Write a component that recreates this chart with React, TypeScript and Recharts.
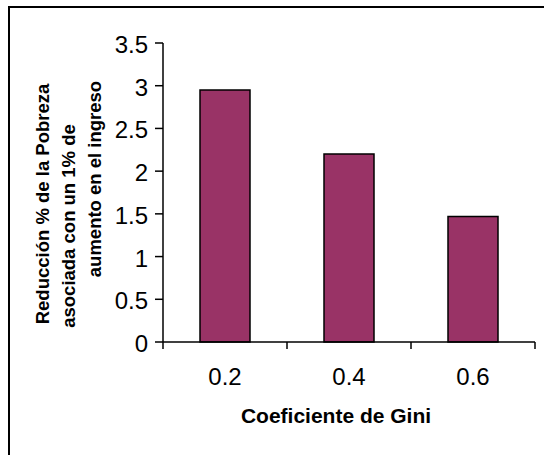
import React from 'react';
import { BarChart, Bar, XAxis, YAxis } from 'recharts';

const giniCategories = ['0.2', '0.4', '0.6'];
const povertyReduction = [2.95, 2.2, 1.47];
const yTicks = [0, 0.5, 1, 1.5, 2, 2.5, 3, 3.5];
const yTitleLines = ['Reducción % de la Pobreza', 'asociada con un 1% de', 'aumento en el ingreso'];
const xTitle = 'Coeficiente de Gini';

const data = giniCategories.map((g, i) => ({ gini: g, value: povertyReduction[i] }));

const FONT = '"Liberation Sans", Arial, Helvetica, sans-serif';
const CHART_W = 544;
const CHART_H = 455;
const MARGIN = { top: 43, right: 9, left: 103, bottom: 53 };
const Y_AXIS_W = 60;
const PLOT_W = CHART_W - MARGIN.left - MARGIN.right - Y_AXIS_W;
const BAND = PLOT_W / giniCategories.length;
const X_TICK_SIZE = 7;
const X_TICK_MARGIN = 36;

const YTick = (props: any) => {
  const { x, y, payload } = props;
  return (
    <text x={x} y={y} dy={10} textAnchor="end" fontFamily={FONT} fontSize={24} fill="#000">
      {String(payload.value)}
    </text>
  );
};

const XTick = (props: any) => {
  const { x, y, payload, index } = props;
  const axisY = y - X_TICK_SIZE - X_TICK_MARGIN;
  const left = x - BAND / 2;
  const right = x + BAND / 2;
  const last = index === giniCategories.length - 1;
  return (
    <g>
      <line x1={left} x2={left} y1={axisY} y2={axisY + X_TICK_SIZE} stroke="#000" strokeWidth={1.5} />
      {last && <line x1={right} x2={right} y1={axisY} y2={axisY + X_TICK_SIZE} stroke="#000" strokeWidth={1.5} />}
      <text x={x} y={y} textAnchor="middle" fontFamily={FONT} fontSize={24} fill="#000">
        {String(payload.value)}
      </text>
    </g>
  );
};

const YTitle = () => {
  const lines = [
    { x: 49, cy: 204 },
    { x: 75, cy: 226 },
    { x: 101, cy: 179 },
  ];
  return (
    <g>
      {yTitleLines.map((t, i) => (
        <text
          key={i}
          x={lines[i].x}
          y={lines[i].cy}
          transform={`rotate(-90 ${lines[i].x} ${lines[i].cy})`}
          textAnchor="middle"
          fontFamily={FONT}
          fontWeight="bold"
          fontSize={18.5}
          fill="#000"
        >
          {t}
        </text>
      ))}
    </g>
  );
};

const XTitle = () => (
  <text x={336} y={423} textAnchor="middle" fontFamily={FONT} fontWeight="bold" fontSize={21} fill="#000">
    {xTitle}
  </text>
);

export default function App() {
  return (
    <div style={{ position: 'absolute', left: 0, top: 0, width: 544, height: 455, overflow: 'hidden', background: '#fff' }}>
      <div
        style={{
          position: 'absolute',
          left: 8,
          top: 6,
          width: 536,
          height: 449,
          borderTop: '2px solid #000',
          borderLeft: '2px solid #000',
        }}
      />
      <div style={{ position: 'absolute', left: 0, top: 0 }}>
        <BarChart width={CHART_W} height={CHART_H} data={data} margin={MARGIN}>
          <XAxis
            dataKey="gini"
            axisLine={{ stroke: '#000', strokeWidth: 1.5 }}
            tickLine={false}
            tickSize={X_TICK_SIZE}
            tickMargin={X_TICK_MARGIN}
            height={60}
            tick={<XTick />}
            interval={0}
            label={{ content: () => <XTitle /> }}
          />
          <YAxis
            domain={[0, 3.5]}
            ticks={yTicks}
            width={Y_AXIS_W}
            tickSize={8}
            tickMargin={7}
            tick={<YTick />}
            interval={0}
            axisLine={{ stroke: '#000', strokeWidth: 1.5 }}
            tickLine={{ stroke: '#000', strokeWidth: 1.5 }}
            label={{ content: () => <YTitle /> }}
          />
          <Bar
            dataKey="value"
            fill="#993366"
            stroke="#000"
            strokeWidth={1.5}
            barSize={50}
            isAnimationActive={false}
          />
        </BarChart>
      </div>
    </div>
  );
}
